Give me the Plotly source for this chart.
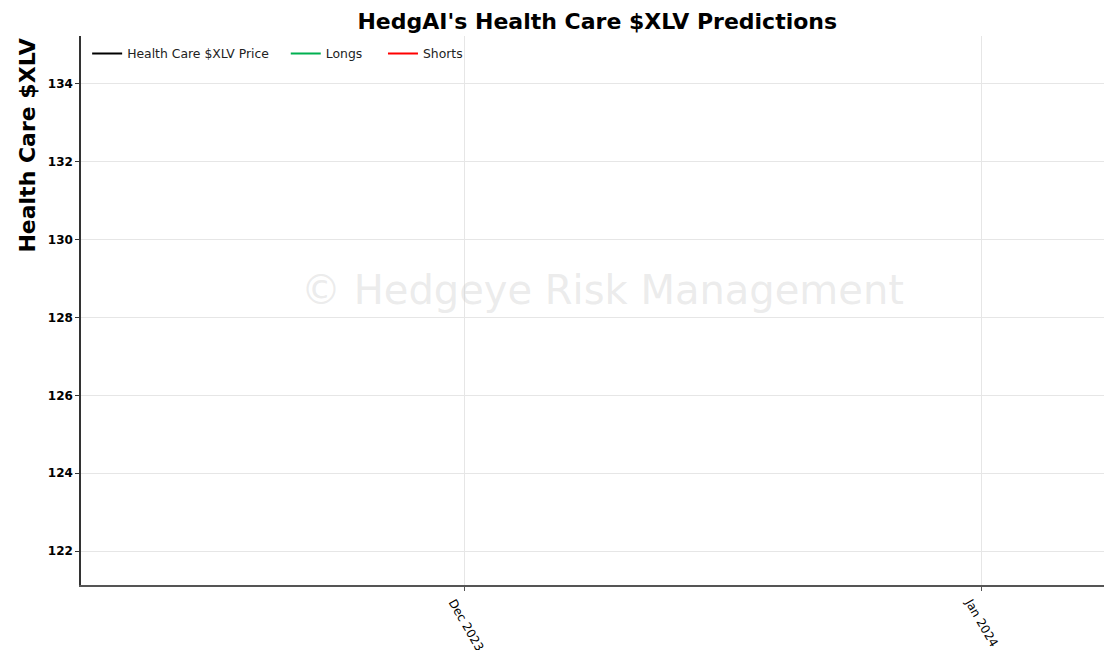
import plotly.graph_objects as go

# Data (the reference shows no visible marks in the plotted window)
price_dates = [None]
price_values = [None]
long_dates = [None]
long_values = [None]
short_dates = [None]
short_values = [None]

x_range = ["2023-11-08", "2024-01-08 09:00"]
y_range = [121.13, 135.23]
y_ticks = [122, 124, 126, 128, 130, 132, 134]
x_ticks = ["2023-12-01", "2024-01-01"]
x_ticklabels = ["Dec 2023", "Jan 2024"]

NB = "\u00a0"
fig = go.Figure()
fig.add_trace(go.Scatter(x=price_dates, y=price_values, mode="lines",
                         name="Health Care $XLV Price" + NB * 3,
                         line=dict(color="black", width=2)))
fig.add_trace(go.Scatter(x=long_dates, y=long_values, mode="lines",
                         name="Longs" + NB * 4, line=dict(color="#00b050", width=2)))
fig.add_trace(go.Scatter(x=short_dates, y=short_values, mode="lines",
                         name="Shorts", line=dict(color="red", width=2)))

fig.update_layout(
    width=1104, height=650,
    margin=dict(l=81, r=0, t=36, b=65),
    plot_bgcolor="white", paper_bgcolor="white",
    font=dict(family="DejaVu Sans", color="black"),
    title=dict(text="<b>HedgAI's Health Care $XLV Predictions</b>",
               x=0.541, xanchor="center", y=0.967, yanchor="middle",
               font=dict(size=22, color="black")),
    showlegend=True,
    legend=dict(orientation="h", x=0.006, y=0.9945, xanchor="left", yanchor="top",
                bgcolor="rgba(0,0,0,0)", font=dict(size=12.4, color="#222222")),
    xaxis=dict(type="date", range=x_range, tickvals=x_ticks, ticktext=x_ticklabels,
               tickangle=60, tickfont=dict(size=12), ticklabelshift=-11,
               automargin=False,
               showgrid=True, gridcolor="#e6e6e6", gridwidth=1,
               showline=True, linecolor="#555555", linewidth=1.5,
               ticks="outside", ticklen=4, tickcolor="#555555",
               zeroline=False),
    yaxis=dict(range=y_range, tickvals=y_ticks,
               ticktext=[f"<b>{v}</b>" for v in y_ticks],
               tickfont=dict(size=12), automargin=False,
               showgrid=True, gridcolor="#e6e6e6", gridwidth=1,
               showline=True, linecolor="#333333", linewidth=1.5,
               ticks="outside", ticklen=4, tickcolor="#333333",
               zeroline=False),
)

fig.add_annotation(text="<b>Health Care $XLV</b>", xref="paper", yref="paper",
                   x=-0.052, y=0.8, xanchor="center", yanchor="middle",
                   textangle=-90, showarrow=False, font=dict(size=22, color="black"))

fig.add_annotation(text="© Hedgeye Risk Management", xref="paper", yref="paper",
                   x=0.51, y=0.538, showarrow=False,
                   font=dict(size=40, color="rgba(205,205,205,0.4)", family="DejaVu Sans"))

fig.write_html("out.html", config={"displayModeBar": False},
               post_script="document.body.style.margin='0';document.body.style.overflow='hidden';")
